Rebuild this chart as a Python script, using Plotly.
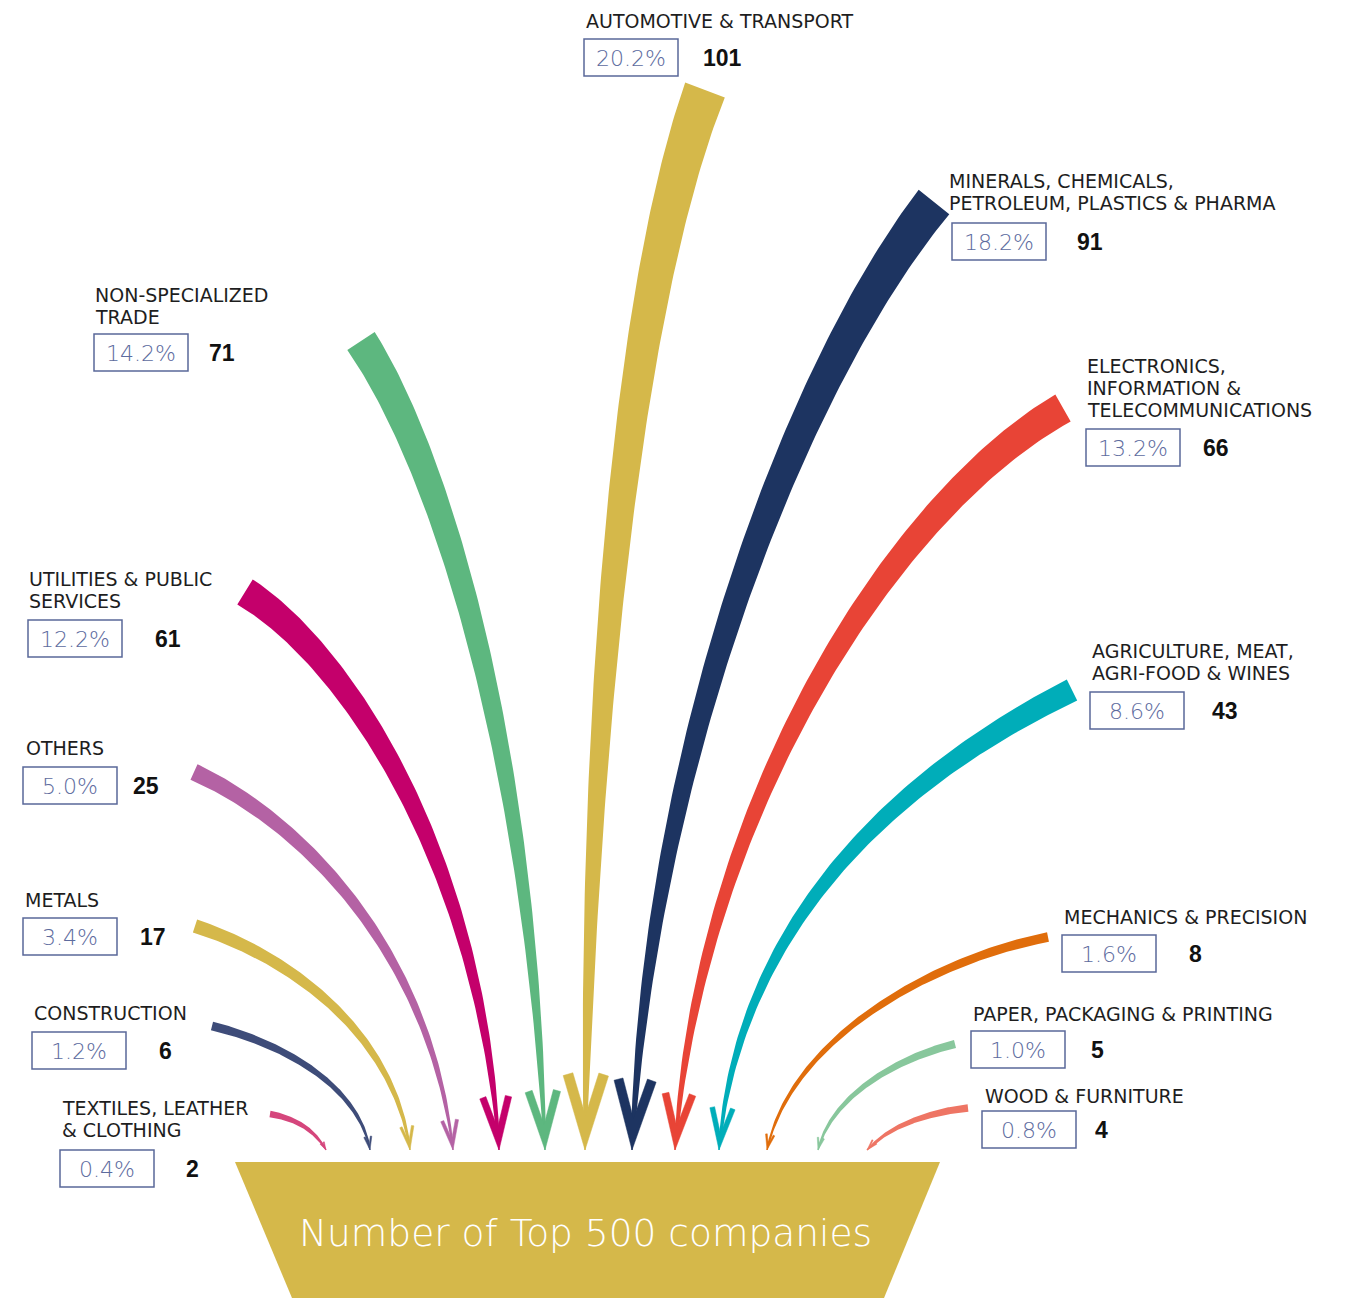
import numpy as np
import plotly.graph_objects as go

# ---------------- data ----------------
categories = [
    "AUTOMOTIVE & TRANSPORT",
    "MINERALS, CHEMICALS,\nPETROLEUM, PLASTICS & PHARMA",
    "NON-SPECIALIZED\nTRADE",
    "ELECTRONICS,\nINFORMATION &\nTELECOMMUNICATIONS",
    "UTILITIES & PUBLIC\nSERVICES",
    "AGRICULTURE, MEAT,\nAGRI-FOOD & WINES",
    "OTHERS",
    "METALS",
    "MECHANICS & PRECISION",
    "CONSTRUCTION",
    "PAPER, PACKAGING & PRINTING",
    "TEXTILES, LEATHER\n& CLOTHING",
    "WOOD & FURNITURE",
]
companies = [101, 91, 71, 66, 61, 43, 25, 17, 8, 6, 5, 2, 4]
shares = [20.2, 18.2, 14.2, 13.2, 12.2, 8.6, 5.0, 3.4, 1.6, 1.2, 1.0, 0.4, 0.8]
title_text = "Number of Top 500 companies"

# ---------------- styles ----------------
colors = ["#D5B84A", "#1D3461", "#5DB77F", "#E84436", "#C4006B", "#00ADB9",
          "#B462A4", "#D5B84A", "#E06D0B", "#3E4C79", "#88C79C", "#D5467C", "#EE7564"]
funnel_color = "#D5B84A"
box_color = "#5A6899"
pct_color = "#5D6B9E"

# ---------------- layout positions (pixels) ----------------
W, H = 1351, 1298
# arrow paths: start, control 1, control 2, tip
p0 = [(705, 90), (934, 202), (361, 341), (1063, 408), (245, 592), (1072, 690),
      (194, 772), (195, 926), (1048, 937), (212, 1026), (955, 1044), (270, 1114), (968, 1108)]
p1 = [(630, 290), (800, 370), (440, 460), (900, 500), (340, 650), (930, 760),
      (300, 820), (300, 960), (930, 960), (290, 1045), (890, 1060), (295, 1118), (930, 1112)]
p2 = [(590, 700), (650, 750), (530, 750), (700, 800), (480, 850), (740, 900),
      (430, 950), (395, 1040), (790, 1040), (360, 1090), (830, 1100), (315, 1130), (890, 1125)]
tip_x = [585, 632, 545, 675, 499, 719, 453, 410, 767, 370, 818, 326, 867]
tip_y = 1150

label_x = [584, 947, 93, 1085, 27, 1090, 24, 23, 1062, 32, 971, 60, 983]
label_y = [21, 181, 295, 366, 579, 651, 748, 900, 917, 1013, 1014, 1108, 1096]
line_gap = 22
box_x = [584, 952, 94, 1086, 28, 1090, 23, 23, 1062, 32, 971, 60, 982]
box_y = [39, 223, 334, 429, 620, 692, 767, 918, 935, 1032, 1031, 1150, 1111]
box_w, box_h = 94, 37
count_x = [701, 1075, 207, 1201, 153, 1210, 131, 138, 1187, 157, 1089, 184, 1093]

funnel_top, funnel_bottom = 1162, H
funnel_top_x = (235, 940)
funnel_bot_x = (292, 884)

FONT = "DejaVu Sans"
COUNT_FONT = "Liberation Sans"


def cubic(P, t):
    a, b, c, d = [np.array(p, dtype=float) for p in P]
    t = t[:, None]
    pt = (1 - t) ** 3 * a + 3 * (1 - t) ** 2 * t * b + 3 * (1 - t) * t ** 2 * c + t ** 3 * d
    dt = 3 * (1 - t) ** 2 * (b - a) + 6 * (1 - t) * t * (c - b) + 3 * t ** 2 * (d - c)
    return pt, dt


def rot(v, a):
    return np.array([v[0] * np.cos(a) - v[1] * np.sin(a), v[0] * np.sin(a) + v[1] * np.cos(a)])


fig = go.Figure()

for i, n in enumerate(companies):
    P = [p0[i], p1[i], p2[i], (tip_x[i], tip_y)]
    t = np.linspace(0, 1, 120)
    pt, dt = cubic(P, t)
    tang = dt / np.linalg.norm(dt, axis=1)[:, None]
    nrm = np.stack([-tang[:, 1], tang[:, 0]], axis=1)
    w0 = 4 + 1.4 * np.sqrt(n) + 0.24 * n
    w_end = 1.2
    w = w_end + (w0 - w_end) * (1 - t) ** 0.7
    left = pt + nrm * (w[:, None] / 2)
    right = pt - nrm * (w[:, None] / 2)
    poly = np.vstack([left, right[::-1], left[:1]])
    fig.add_trace(go.Scatter(x=poly[:, 0], y=poly[:, 1], mode="lines", fill="toself",
                             fillcolor=colors[i], line=dict(width=0, color=colors[i]),
                             hoverinfo="skip", showlegend=False))
    # chevron head
    T = pt[-1]
    back = -tang[-1]
    th = np.radians(17)
    L = 2 + 4 * np.sqrt(n) + 0.35 * n
    s = 1 + 0.09 * n
    a1 = rot(back, th)
    a2 = rot(back, -th)
    n1 = np.array([-a1[1], a1[0]])
    if np.dot(n1, a2 - a1) < 0:
        n1 = -n1
    n2 = np.array([-a2[1], a2[0]])
    if np.dot(n2, a1 - a2) < 0:
        n2 = -n2
    inner = T + back * (s / np.sin(th))
    head = np.array([T, T + L * a1, T + L * a1 + s * n1, inner, T + L * a2 + s * n2, T + L * a2, T])
    fig.add_trace(go.Scatter(x=head[:, 0], y=head[:, 1], mode="lines", fill="toself",
                             fillcolor=colors[i], line=dict(width=0.5, color=colors[i]),
                             hoverinfo="skip", showlegend=False))

shapes = []
shapes.append(dict(type="path", xref="x", yref="y",
                   path=f"M {funnel_top_x[0]},{funnel_top} L {funnel_top_x[1]},{funnel_top} "
                        f"L {funnel_bot_x[1]},{funnel_bottom} L {funnel_bot_x[0]},{funnel_bottom} Z",
                   fillcolor=funnel_color, line=dict(width=0), layer="below"))

annotations = []
for i, cat in enumerate(categories):
    for k, line in enumerate(cat.split("\n")):
        annotations.append(dict(x=label_x[i], y=label_y[i] + k * line_gap, xref="x", yref="y",
                                text=line, showarrow=False, xanchor="left", yanchor="middle",
                                font=dict(family=FONT, size=19, color="#1E1E1E")))
    shapes.append(dict(type="rect", xref="x", yref="y", x0=box_x[i], x1=box_x[i] + box_w,
                       y0=box_y[i], y1=box_y[i] + box_h, line=dict(color=box_color, width=1.5)))
    annotations.append(dict(x=box_x[i] + box_w / 2, y=box_y[i] + box_h / 2 + 1, xref="x", yref="y",
                            text=f"{shares[i]:.1f}%", showarrow=False, xanchor="center", yanchor="middle",
                            font=dict(family=FONT, size=22, color=pct_color, weight=200)))
    annotations.append(dict(x=count_x[i], y=box_y[i] + box_h / 2, xref="x", yref="y",
                            text=f"<b>{companies[i]}</b>", showarrow=False, xanchor="left", yanchor="middle",
                            font=dict(family=COUNT_FONT, size=23, color="#111111")))

annotations.append(dict(x=(funnel_top_x[0] + funnel_top_x[1]) / 2 - 2, y=1233, xref="x", yref="y",
                        text=title_text, showarrow=False, xanchor="center", yanchor="middle",
                        font=dict(family=FONT, size=37.5, color="white", weight=200)))

fig.update_layout(
    width=W, height=H, margin=dict(l=0, r=0, t=0, b=0),
    paper_bgcolor="white", plot_bgcolor="white",
    xaxis=dict(range=[0, W], visible=False, fixedrange=True),
    yaxis=dict(range=[H, 0], visible=False, fixedrange=True),
    shapes=shapes, annotations=annotations, showlegend=False,
)

fig.write_html("out.html")
